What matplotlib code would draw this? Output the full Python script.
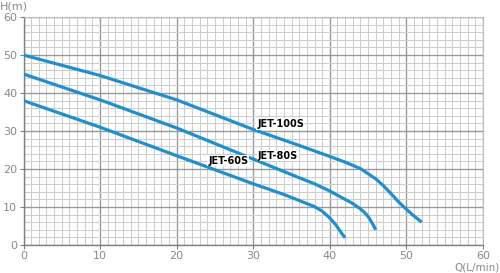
import matplotlib.pyplot as plt
from matplotlib.ticker import MultipleLocator

# datos de las curvas (caudal L/min, altura m)
q_100 = [0, 10, 20, 30, 36, 40, 42, 44, 46, 47, 48, 49, 50, 51, 52]
h_100 = [50, 44.6, 38.2, 30.4, 26.2, 23.3, 21.8, 20.1, 17.4, 15.6, 13.5, 11.3, 9.4, 7.6, 6]

q_80 = [0, 10, 20, 30, 36, 38, 40, 42, 43, 44, 44.7, 45.2, 45.6, 46]
h_80 = [45, 38.2, 30.8, 22.6, 17.7, 16.1, 14.2, 12, 10.9, 9.5, 8.2, 6.9, 5.5, 4]

q_60 = [0, 10, 20, 30, 34, 36, 38, 39, 40, 40.7, 41.2, 41.6, 42]
h_60 = [38, 31, 23.5, 16.1, 13.3, 11.7, 10.1, 8.9, 7.1, 5.5, 4.1, 2.9, 1.9]

etiquetas = ['JET-100S', 'JET-80S', 'JET-60S']
pos_etiquetas = [(30.5, 31.8), (30.6, 23.5), (24.1, 22.2)]

azul = '#1f8fce'
gris = '#808080'

fig = plt.figure(figsize=(5, 2.73), dpi=100)
ax = fig.add_axes([0.047, 0.1026, 0.919, 0.835])

for q, h in [(q_100, h_100), (q_80, h_80), (q_60, h_60)]:
    ax.plot(q, h, color=azul, lw=2.3, solid_capstyle='butt', solid_joinstyle='round', zorder=3)

for texto, (x, y) in zip(etiquetas, pos_etiquetas):
    ax.text(x, y, texto, fontsize=7, fontweight='bold', va='center', ha='left',
            bbox=dict(facecolor='white', edgecolor='none', pad=0.5), zorder=4)

ax.set_xlim(0, 60)
ax.set_ylim(0, 60)
ax.xaxis.set_major_locator(MultipleLocator(10))
ax.yaxis.set_major_locator(MultipleLocator(10))
ax.xaxis.set_minor_locator(MultipleLocator(1))
ax.yaxis.set_minor_locator(MultipleLocator(2))
ax.grid(which='minor', color='#cdcdcd', lw=0.75, zorder=0)
ax.grid(which='major', color='#999999', lw=1.0, zorder=1)
ax.set_axisbelow(True)

for lado in ['top', 'right']:
    ax.spines[lado].set_color('#bbbbbb')
    ax.spines[lado].set_linewidth(0.8)
for lado in ['left', 'bottom']:
    ax.spines[lado].set_color(gris)
    ax.spines[lado].set_linewidth(1.0)

ax.tick_params(which='major', length=3, color=gris, labelsize=8, labelcolor='#888888', pad=1.5)
ax.tick_params(which='minor', length=0)

fig.text(0.0, 0.995, 'H(m)', fontsize=8, color='#888888', ha='left', va='top')
fig.text(1.0, 0.002, 'Q(L/min)', fontsize=7.5, color='#888888', ha='right', va='bottom')

plt.savefig('out.png', dpi=100)
